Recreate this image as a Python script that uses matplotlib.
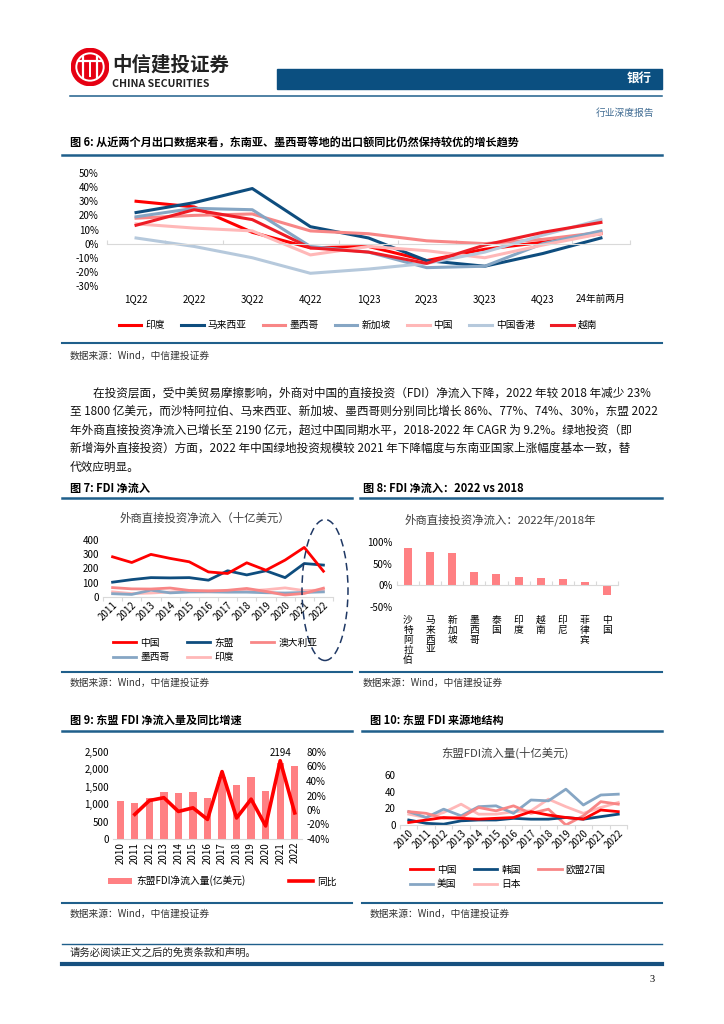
import numpy as np
import matplotlib
matplotlib.use("Agg")
import matplotlib.pyplot as plt
from matplotlib.patches import Ellipse, Circle, Rectangle
from matplotlib.lines import Line2D

plt.rcParams['font.family'] = ['Noto Sans CJK SC', 'DejaVu Sans']
plt.rcParams['axes.unicode_minus'] = False

W, H = 724, 1024

# ---------------- data ----------------
# 图6: export yoy (%)
quarters = ["1Q22", "2Q22", "3Q22", "4Q22", "1Q23", "2Q23", "3Q23", "4Q23", "24年前两月"]
exp_india = [30, 26, 8, -3, -2, -12, -4, 1, 7]
exp_malaysia = [22, 29, 39, 12, 4, -12, -16, -7, 4]
exp_mexico = [18, 20, 21, 9, 7, 2, 0, 3, 8]
exp_singapore = [19, 25, 24, -2, -6, -17, -16, 0, 9]
exp_china = [14, 11, 9, -8, -2, -5, -10, -1, 7]
exp_hongkong = [4, -2, -10, -21, -18, -14, -6, 6, 17]
exp_vietnam = [13, 24, 17, -3, -6, -14, -1, 8, 15]

# 图7: FDI net inflow (bn USD)
fdi_years = [str(y) for y in range(2011, 2023)]
fdi_china = [282, 242, 299, 271, 247, 176, 165, 240, 188, 259, 348, 181]
fdi_asean = [104, 122, 136, 134, 136, 118, 184, 155, 184, 136, 235, 224]
fdi_australia = [66, 57, 56, 63, 46, 42, 47, 60, 39, 14, 25, 62]
fdi_mexico = [23, 18, 48, 29, 35, 36, 34, 34, 30, 28, 32, 36]
fdi_india = [36, 24, 28, 35, 44, 44, 40, 42, 51, 64, 45, 49]

# 图8: 2022 / 2018 change (%)
ratio_countries = ["沙特阿拉伯", "马来西亚", "新加坡", "墨西哥", "泰国", "印度", "越南", "印尼", "菲律宾", "中国"]
ratio_values = [86, 77, 74, 30, 25, 20, 17, 14, 8, -23]

# 图9: ASEAN FDI (100m USD) and yoy (%)
asean_years = [str(y) for y in range(2010, 2023)]
asean_inflow = [1103, 1036, 1169, 1350, 1312, 1350, 1169, 1790, 1550, 1768, 1378, 2194, 2110]
asean_yoy = [np.nan, -6, 13, 17, -2, 3, -13, 53, -11, 15, -22, 68, -4]

# 图10: ASEAN FDI by source (bn USD)
src_years = [str(y) for y in range(2010, 2023)]
src_china = [3, 6, 9, 8, 7, 8, 9, 16, 12, 9, 7, 18, 16]
src_korea = [6, 2, 1, 5, 6, 6, 8, 7, 7, 9, 7, 10, 13]
src_eu = [16, 14, 8, 9, 21, 17, 23, 14, 19, 0, 11, 28, 25]
src_us = [16, 9, 19, 11, 22, 23, 14, 30, 29, 43, 24, 36, 37]
src_japan = [13, 9, 15, 25, 13, 13, 16, 17, 31, 22, 14, 21, 27]

RED = "#ff0000"
RED2 = "#ee1c25"
NAVY = "#0e4d7e"
SALMON = "#f88686"
STEEL = "#86a6c4"
PINK = "#ffb8b8"
LIGHTBLUE = "#b6c9dc"
BAR = "#ff8083"
RULE = "#1f5f8b"
GRID = "#d9d9d9"

fig = plt.figure(figsize=(W / 100, H / 100), dpi=100)


def px_axes(x0, y0, x1, y1):
    return fig.add_axes([x0 / W, 1 - y1 / H, (x1 - x0) / W, (y1 - y0) / H])


def ftext(x, y, s, **kw):
    kw.setdefault("va", "center")
    return fig.text(x / W, 1 - y / H, s, **kw)


def hline(x0, x1, y, lw=1.2, color=RULE):
    fig.add_artist(Line2D([x0 / W, x1 / W], [1 - y / H, 1 - y / H], lw=lw, color=color))


def clean(ax):
    for s in ["top", "right", "left"]:
        ax.spines[s].set_visible(False)
    ax.spines["bottom"].set_color(GRID)
    ax.tick_params(axis="y", length=0, labelsize=7, pad=3)


def cat_ticks(ax, labels, rotation=0, pad=3, ticks_in=False):
    n = len(labels)
    ax.set_xlim(-0.5, n - 0.5)
    ax.set_xticks(np.arange(n + 1) - 0.5)
    ax.set_xticklabels([])
    ax.tick_params(axis="x", which="major", length=3, color=GRID,
                   direction="in" if ticks_in else "out")
    ax.set_xticks(np.arange(n), minor=True)
    if rotation:
        ax.set_xticklabels(labels, minor=True, rotation=rotation,
                           ha="right" if rotation == 45 else "center",
                           rotation_mode="anchor" if rotation == 45 else "default")
    else:
        ax.set_xticklabels(labels, minor=True)
    ax.tick_params(axis="x", which="minor", length=0, labelsize=7, pad=pad)


# ---------------- header ----------------
lax = px_axes(71, 48, 109, 86)
lax.set_xlim(-1, 1)
lax.set_ylim(-1, 1)
lax.set_aspect("equal")
lax.axis("off")
lax.add_patch(Circle((0, 0), 0.98, color="#e60012"))
lax.add_patch(Circle((0, 0), 0.72, fill=False, ec="white", lw=1.4))
for xv in (-0.38, 0.38):
    lax.plot([xv, xv], [-0.6, 0.55], color="white", lw=1.6)
lax.plot([-0.62, 0.62], [0.3, 0.3], color="white", lw=1.6)
lax.plot([0, 0], [-0.45, 0.3], color="white", lw=1.4)

ftext(112, 65, "中信建投证券", fontsize=14, fontweight="bold", color="#222222")
ftext(112, 84, "CHINA SECURITIES", fontsize=7.6, fontweight="bold", color="#222222")
fig.add_artist(Rectangle((277 / W, 1 - 89 / H), (662 - 277) / W, 20 / H,
                         transform=fig.transFigure, color="#0b4f80"))
ftext(652, 79, "银行", fontsize=9, fontweight="bold", color="white", ha="right")
hline(70, 662, 96, lw=1.1)
ftext(654, 113, "行业深度报告", fontsize=7, color="#3f6b92", ha="right")

# ---------------- 图6 ----------------
ftext(70, 143, "图 6: 从近两个月出口数据来看，东南亚、墨西哥等地的出口额同比仍然保持较优的增长趋势",
      fontsize=8, fontweight="bold")
hline(62, 662, 155, lw=1.8)

ax1 = px_axes(107, 173, 630, 286)
series1 = [("印度", exp_india, RED), ("马来西亚", exp_malaysia, NAVY),
           ("墨西哥", exp_mexico, SALMON), ("新加坡", exp_singapore, STEEL),
           ("中国", exp_china, PINK), ("中国香港", exp_hongkong, LIGHTBLUE),
           ("越南", exp_vietnam, RED2)]
x1 = np.arange(len(quarters))
for name, vals, col in series1:
    ax1.plot(x1, vals, color=col, lw=2.2, label=name)
ax1.set_ylim(-30, 50)
ax1.set_yticks(np.arange(-30, 51, 10))
ax1.set_yticklabels([f"{v}%" for v in range(-30, 51, 10)])
clean(ax1)
ax1.spines["bottom"].set_position(("data", 0))
cat_ticks(ax1, quarters, pad=36, ticks_in=True)
ax1.tick_params(axis="y", pad=6)
fig.legend(*ax1.get_legend_handles_labels(), loc="center", ncol=7,
           bbox_to_anchor=(358 / W, 1 - 325 / H), frameon=False, fontsize=7,
           handlelength=2.3, handletextpad=0.4, columnspacing=1.7)
hline(62, 662, 343, lw=1.5)
ftext(70, 356, "数据来源：Wind，中信建投证券", fontsize=7, style="italic", color="#333333")

# ---------------- paragraph ----------------
para = [
    "在投资层面，受中美贸易摩擦影响，外商对中国的直接投资（FDI）净流入下降，2022 年较 2018 年减少 23%",
    "至 1800 亿美元，而沙特阿拉伯、马来西亚、新加坡、墨西哥则分别同比增长 86%、77%、74%、30%，东盟 2022",
    "年外商直接投资净流入已增长至 2190 亿元，超过中国同期水平，2018-2022 年 CAGR 为 9.2%。绿地投资（即",
    "新增海外直接投资）方面，2022 年中国绿地投资规模较 2021 年下降幅度与东南亚国家上涨幅度基本一致，替",
    "代效应明显。",
]
for i, line in enumerate(para):
    ftext(93 if i == 0 else 70, 393 + i * 18.5, line, fontsize=8.4, color="#111111")

# ---------------- 图7 ----------------
ftext(70, 488, "图 7: FDI 净流入", fontsize=8, fontweight="bold")
hline(62, 352, 498, lw=1.8)
ftext(205, 518, "外商直接投资净流入（十亿美元）", fontsize=8.2, color="#404040", ha="center")
ax7 = px_axes(103, 540, 333, 597)
x7 = np.arange(len(fdi_years))
s7 = [("中国", fdi_china, RED), ("东盟", fdi_asean, NAVY), ("澳大利亚", fdi_australia, SALMON),
      ("墨西哥", fdi_mexico, STEEL), ("印度", fdi_india, PINK)]
h7 = {}
for name, vals, col in s7[::-1]:
    h7[name], = ax7.plot(x7, vals, color=col, lw=2.0, label=name)
ax7.set_ylim(0, 400)
ax7.set_yticks(range(0, 401, 100))
clean(ax7)
cat_ticks(ax7, fdi_years, rotation=45, pad=2)
order7 = ["中国", "墨西哥", "东盟", "印度", "澳大利亚"]
fig.legend([h7[k] for k in order7], order7, loc="upper left", ncol=3,
           bbox_to_anchor=(104 / W, 1 - 629 / H), frameon=False, fontsize=7,
           handlelength=2.4, handletextpad=0.4, columnspacing=1.8, labelspacing=0.45)
fig.add_artist(Ellipse((325 / W, 1 - 590 / H), 46 / W, 141 / H, transform=fig.transFigure,
                       fill=False, ec="#1f3864", lw=1.1, ls=(0, (5, 3))))
hline(62, 352, 672, lw=1.5)
ftext(70, 683, "数据来源：Wind，中信建投证券", fontsize=7, style="italic", color="#333333")

# ---------------- 图8 ----------------
ftext(363, 488, "图 8: FDI 净流入：2022 vs 2018", fontsize=8, fontweight="bold")
hline(360, 662, 498, lw=1.8)
ftext(500, 520, "外商直接投资净流入：2022年/2018年", fontsize=8.2, color="#404040", ha="center")
ax8 = px_axes(397, 542, 618, 607)
x8 = np.arange(len(ratio_countries))
ax8.bar(x8, ratio_values, width=0.36, color=BAR)
ax8.set_ylim(-50, 100)
ax8.set_yticks([-50, 0, 50, 100])
ax8.set_yticklabels([f"{v}%" for v in [-50, 0, 50, 100]])
clean(ax8)
ax8.spines["bottom"].set_position(("data", 0))
cat_ticks(ax8, ["\n".join(c) for c in ratio_countries], pad=21, ticks_in=True)
for t in ax8.get_xticklabels(minor=True):
    t.set_linespacing(1.0)
    t.set_va("top")
hline(360, 662, 672, lw=1.5)
ftext(363, 683, "数据来源：Wind，中信建投证券", fontsize=7, style="italic", color="#333333")

# ---------------- 图9 ----------------
ftext(70, 720, "图 9: 东盟 FDI 净流入量及同比增速", fontsize=8, fontweight="bold")
hline(62, 352, 731, lw=1.8)
ax9 = px_axes(113, 752, 302, 839)
x9 = np.arange(len(asean_years))
bars9 = ax9.bar(x9, asean_inflow, width=0.5, color=BAR, label="东盟FDI净流入量(亿美元)")
ax9.set_ylim(0, 2500)
ax9.set_yticks(range(0, 2501, 500))
ax9.set_yticklabels([f"{v:,}" for v in range(0, 2501, 500)])
clean(ax9)
cat_ticks(ax9, asean_years, rotation=90, pad=2)
ax9.tick_params(axis="x", which="major", length=0)
ax9.annotate(f"{asean_inflow[11]}", (11, asean_inflow[11]), xytext=(0, 3),
             textcoords="offset points", ha="center", va="bottom", fontsize=7)
ax9b = ax9.twinx()
line9, = ax9b.plot(x9, asean_yoy, color=RED, lw=2.6, label="同比")
ax9b.set_ylim(-40, 80)
ax9b.set_yticks(range(-40, 81, 20))
ax9b.set_yticklabels([f"{v}%" for v in range(-40, 81, 20)])
for s in ax9b.spines.values():
    s.set_visible(False)
ax9b.tick_params(axis="y", length=0, labelsize=7, pad=3)
fig.legend([bars9, line9], ["东盟FDI净流入量(亿美元)", "同比"], loc="center left", ncol=2,
           bbox_to_anchor=(99 / W, 1 - 881 / H), frameon=False, fontsize=7,
           handlelength=2.5, handletextpad=0.4, columnspacing=4.5)
hline(62, 352, 903, lw=1.5)
ftext(70, 914, "数据来源：Wind，中信建投证券", fontsize=7, style="italic", color="#333333")

# ---------------- 图10 ----------------
ftext(370, 720, "图 10: 东盟 FDI 来源地结构", fontsize=8, fontweight="bold")
hline(362, 662, 731, lw=1.8)
ftext(505, 753, "东盟FDI流入量(十亿美元)", fontsize=8.2, color="#404040", ha="center")
ax10 = px_axes(400, 775, 627, 825)
x10 = np.arange(len(src_years))
s10 = [("中国", src_china, RED), ("韩国", src_korea, NAVY), ("欧盟27国", src_eu, SALMON),
       ("美国", src_us, STEEL), ("日本", src_japan, PINK)]
h10 = {}
for name, vals, col in s10[::-1]:
    h10[name], = ax10.plot(x10, vals, color=col, lw=2.0, label=name)
ax10.set_ylim(0, 60)
ax10.set_yticks(range(0, 61, 20))
clean(ax10)
cat_ticks(ax10, src_years, rotation=45, pad=2)
order10 = ["中国", "美国", "韩国", "日本", "欧盟27国"]
fig.legend([h10[k] for k in order10], order10, loc="upper left", ncol=3,
           bbox_to_anchor=(401 / W, 1 - 856 / H), frameon=False, fontsize=7,
           handlelength=2.4, handletextpad=0.4, columnspacing=1.8, labelspacing=0.45)
hline(362, 662, 903, lw=1.5)
ftext(370, 914, "数据来源：Wind，中信建投证券", fontsize=7, style="italic", color="#333333")

# ---------------- footer ----------------
hline(62, 662, 944, lw=1.0)
ftext(70, 953, "请务必阅读正文之后的免责条款和声明。", fontsize=7.5, color="#222222")
hline(62, 662, 964, lw=3.0, color="#17507f")
ftext(655, 979, "3", fontsize=7.5, ha="right", family=["Liberation Serif", "DejaVu Serif"])

fig.savefig("out.png", dpi=100)
